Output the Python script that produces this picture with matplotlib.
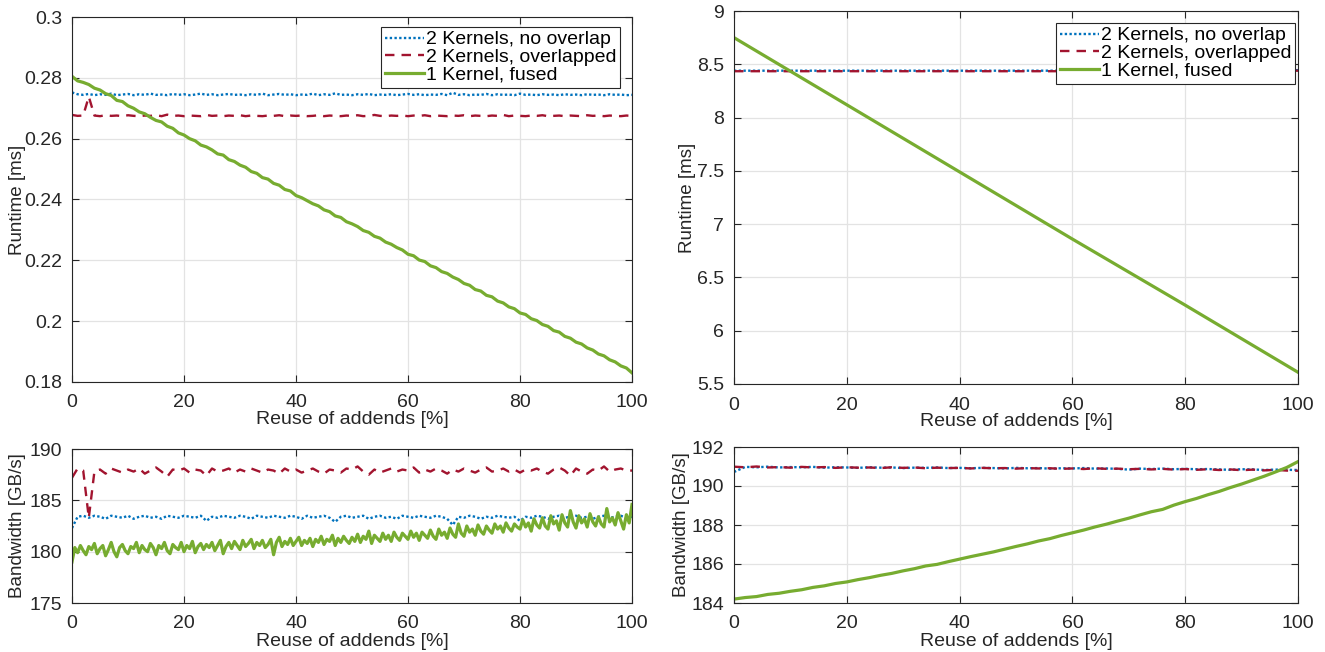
import numpy as np
import matplotlib
matplotlib.use("Agg")
import matplotlib.pyplot as plt

plt.rcParams['font.family'] = ['Liberation Sans', 'DejaVu Sans']

# ---------------- data ----------------
reuse_fine = list(range(0, 101))                    # 0..100 %, step 1
reuse_half = [i * 0.5 for i in range(0, 201)]       # 0..100 %, step 0.5
reuse_coarse = list(range(0, 101, 2))               # 0..100 %, step 2
reuse_deca = list(range(0, 101, 10))                # 0..100 %, step 10

labels = ["2 Kernels, no overlap", "2 Kernels, overlapped", "1 Kernel, fused"]

# Left panels (small problem)
rt_left_no_overlap = [
    0.2752, 0.2746, 0.2744, 0.2747, 0.2743, 0.2746, 0.2744, 0.2748, 0.2743, 0.2745,
    0.2747, 0.2743, 0.2746, 0.2744, 0.2748, 0.2744, 0.2745, 0.2743, 0.2747, 0.2744,
    0.2746, 0.2743, 0.2745, 0.2748, 0.2744, 0.2746, 0.2743, 0.2745, 0.2747, 0.2744,
    0.2745, 0.2743, 0.2746, 0.2744, 0.2748, 0.2743, 0.2745, 0.2747, 0.2744, 0.2746,
    0.2743, 0.2745, 0.2744, 0.2748, 0.2743, 0.2746, 0.2744, 0.2749, 0.2744, 0.2745,
    0.2743, 0.2746, 0.2744, 0.2747, 0.2743, 0.2745, 0.2744, 0.2746, 0.2743, 0.2745,
    0.2747, 0.2744, 0.2746, 0.2743, 0.2745, 0.2744, 0.2747, 0.2743, 0.2751, 0.2744,
    0.2746, 0.2743, 0.2745, 0.2744, 0.2747, 0.2743, 0.2746, 0.2744, 0.2745, 0.2743,
    0.2748, 0.2744, 0.2745, 0.2743, 0.2746, 0.2744, 0.2745, 0.2743, 0.2746, 0.2744,
    0.2745, 0.2743, 0.2746, 0.2744, 0.2745, 0.2743, 0.2746, 0.2744, 0.2745, 0.2743,
    0.2744,
]
rt_left_overlapped = [
    0.2678, 0.2675, 0.2676, 0.2738, 0.2676, 0.2674, 0.2677, 0.2675, 0.2676, 0.2674,
    0.2677, 0.2675, 0.2674, 0.2676, 0.2675, 0.2677, 0.2674, 0.2679, 0.2675, 0.2676,
    0.2674, 0.2676, 0.2675, 0.2674, 0.2678, 0.2675, 0.2676, 0.2674, 0.2676, 0.2675,
    0.2677, 0.2674, 0.2676, 0.2675, 0.2674, 0.2676, 0.2675, 0.2677, 0.2674, 0.2676,
    0.2675, 0.2676, 0.2674, 0.2675, 0.2677, 0.2674, 0.2676, 0.2675, 0.2674, 0.2676,
    0.2675, 0.2677, 0.2674, 0.2675, 0.2678, 0.2675, 0.2674, 0.2676, 0.2675, 0.2676,
    0.2674, 0.2676, 0.2675, 0.2677, 0.2674, 0.2676, 0.2675, 0.2674, 0.2676, 0.2675,
    0.2677, 0.2674, 0.2676, 0.2675, 0.2674, 0.2676, 0.2675, 0.2678, 0.2674, 0.2676,
    0.2675, 0.2674, 0.2676, 0.2675, 0.2677, 0.2674, 0.2675, 0.2676, 0.2674, 0.2676,
    0.2675, 0.2674, 0.2677, 0.2675, 0.2676, 0.2674, 0.2676, 0.2675, 0.2674, 0.2676,
    0.2675,
]
rt_left_fused = [
    0.2805, 0.2790, 0.2785, 0.2778, 0.2766, 0.2760, 0.2748, 0.2742, 0.2726, 0.2722,
    0.2708, 0.2700, 0.2688, 0.2682, 0.2670, 0.2660, 0.2655, 0.2641, 0.2634, 0.2619,
    0.2612, 0.2600, 0.2593, 0.2579, 0.2573, 0.2563, 0.2550, 0.2546, 0.2531, 0.2525,
    0.2513, 0.2506, 0.2492, 0.2486, 0.2472, 0.2467, 0.2453, 0.2447, 0.2433, 0.2428,
    0.2413, 0.2406, 0.2396, 0.2386, 0.2379, 0.2366, 0.2360, 0.2346, 0.2341, 0.2327,
    0.2320, 0.2311, 0.2298, 0.2292, 0.2279, 0.2273, 0.2260, 0.2253, 0.2242, 0.2234,
    0.2220, 0.2215, 0.2201, 0.2196, 0.2182, 0.2176, 0.2163, 0.2157, 0.2145, 0.2137,
    0.2124, 0.2118, 0.2104, 0.2099, 0.2085, 0.2080, 0.2066, 0.2060, 0.2047, 0.2041,
    0.2027, 0.2022, 0.2008, 0.2002, 0.1989, 0.1983, 0.1969, 0.1964, 0.1950, 0.1944,
    0.1931, 0.1925, 0.1912, 0.1905, 0.1892, 0.1886, 0.1873, 0.1866, 0.1853, 0.1846,
    0.1830,
]
bw_left_no_overlap = [
    182.3, 183.4, 183.5, 183.3, 183.5, 183.4, 183.2, 183.5, 183.4, 183.3,
    183.5, 183.2, 183.4, 183.5, 183.3, 183.4, 183.2, 183.5, 183.4, 183.3,
    183.5, 183.4, 183.3, 183.5, 183.0, 183.4, 183.3, 183.5, 183.4, 183.3,
    183.5, 183.4, 183.2, 183.5, 183.4, 183.3, 183.5, 183.4, 183.3, 183.5,
    183.4, 183.2, 183.5, 183.3, 183.4, 183.5, 183.3, 182.9, 183.4, 183.5,
    183.3, 183.4, 183.5, 183.2, 183.4, 183.5, 183.3, 183.4, 183.2, 183.5,
    183.4, 183.3, 183.5, 183.4, 183.3, 183.5, 183.4, 183.2, 182.6, 183.4,
    183.3, 183.5, 183.4, 183.2, 183.4, 183.3, 183.5, 183.4, 183.3, 183.4,
    183.0, 183.4, 183.3, 183.5, 183.4, 183.2, 183.4, 183.5, 183.3, 183.4,
    183.5, 183.3, 183.4, 183.2, 183.4, 183.5, 183.3, 183.4, 183.5, 183.3,
    183.4,
]
bw_left_overlapped = [
    187.2, 188.1, 187.9, 183.3, 187.8, 188.0, 187.6, 188.1, 187.9, 187.7,
    188.0, 187.8, 188.1, 187.6, 187.9, 188.2, 187.8, 187.3, 188.0, 187.9,
    188.1, 187.7, 188.0, 187.9, 187.4, 188.1, 187.8, 187.9, 188.1, 187.7,
    188.0, 187.8, 188.1, 187.9, 187.7, 188.0, 187.9, 187.6, 188.1, 187.8,
    188.0, 187.7, 187.9, 188.1, 187.8, 187.6, 188.0, 187.9, 187.7, 188.1,
    188.0, 188.3, 187.8, 187.5, 188.0, 187.7, 187.9, 188.1, 187.8, 188.0,
    187.9, 188.2, 187.7, 188.0, 187.8, 188.1, 187.9, 187.6, 188.0, 187.8,
    188.1, 187.9, 187.7, 188.0, 188.2, 187.8, 187.9, 188.1, 187.8, 188.0,
    187.7, 188.0, 187.9, 188.1, 187.8, 187.6, 188.0, 188.2, 187.9, 187.4,
    188.1, 187.8, 187.6, 188.0, 187.9, 188.3, 187.8, 188.0, 188.1, 187.9,
    187.9,
]
bw_left_fused = [
    179.0, 180.4, 179.9, 180.6, 180.1, 179.7, 180.5, 180.2, 180.8, 179.8,
    180.3, 180.6, 179.6, 180.2, 180.9, 180.0, 179.5, 180.4, 180.7, 180.1,
    179.8, 180.5, 180.3, 180.9, 179.9, 180.6, 180.2, 180.0, 180.8, 180.4,
    179.7, 180.6, 180.3, 180.9, 180.1, 179.8, 180.7, 180.4, 180.2, 180.9,
    180.0, 180.6, 180.3, 181.0, 179.9, 180.5, 180.8, 180.2, 180.7, 180.4,
    180.9, 180.1, 180.6, 181.1, 179.8, 180.5, 180.9, 180.3, 181.0, 180.6,
    180.2, 181.1, 180.5, 180.8, 181.2, 180.3, 180.9, 180.6, 181.1, 180.4,
    180.7, 181.2, 179.7, 180.9, 181.4, 180.5, 181.0, 180.7, 181.3, 180.6,
    181.0, 181.4, 180.6, 181.1, 180.8, 181.3, 180.5, 181.2, 180.9, 181.5,
    180.7, 181.2, 181.0, 181.6, 180.6, 181.3, 180.9, 181.5, 181.1, 180.8,
    181.4, 181.0, 181.7, 180.9, 181.5, 181.2, 182.0, 180.8, 181.6, 181.3,
    181.0, 181.8, 181.2, 181.6, 181.0, 181.9, 181.4, 181.1, 181.8, 181.5,
    181.2, 182.0, 181.4, 181.8, 181.1, 181.9, 181.6, 181.3, 182.1, 181.5,
    181.2, 182.2, 181.6, 181.9, 181.3, 182.3, 181.7, 181.4, 182.7, 181.8,
    181.5, 182.5, 181.9, 182.2, 181.6, 182.6, 182.0, 181.7, 182.5, 182.1,
    181.8, 182.7, 182.2, 182.5, 181.9, 182.8, 182.3, 182.0, 182.7, 182.4,
    182.2, 183.1, 182.4, 182.8, 182.0, 183.2, 182.6, 182.3, 183.3, 182.5,
    182.2, 183.5, 182.7, 183.0, 182.1, 183.6, 182.8, 182.4, 184.0, 182.9,
    182.3, 183.5, 182.8, 183.2, 182.4, 183.7, 182.9, 182.5, 183.4, 182.7,
    182.4, 184.2, 182.9, 183.3, 182.6, 183.8, 183.0, 182.2, 183.6, 182.8,
    184.6,
]

# Right panels (large problem)
rt_right_no_overlap = [
    8.44, 8.44, 8.44, 8.44, 8.44, 8.44, 8.44, 8.44, 8.44, 8.44, 8.44,
    8.44, 8.44, 8.44, 8.44, 8.44, 8.44, 8.44, 8.44, 8.44, 8.44,
    8.44, 8.44, 8.44, 8.44, 8.44, 8.44, 8.44, 8.44, 8.44, 8.44,
    8.44, 8.44, 8.44, 8.44, 8.44, 8.44, 8.44, 8.44, 8.44, 8.44,
    8.44, 8.44, 8.44, 8.44, 8.44, 8.44, 8.44, 8.445, 8.445, 8.445,
]
rt_right_overlapped = [
    8.435, 8.435, 8.435, 8.435, 8.435, 8.435, 8.435, 8.435, 8.435, 8.435, 8.435,
    8.435, 8.435, 8.435, 8.435, 8.435, 8.435, 8.435, 8.435, 8.435, 8.435,
    8.435, 8.435, 8.435, 8.435, 8.435, 8.435, 8.435, 8.435, 8.435, 8.435,
    8.435, 8.435, 8.435, 8.435, 8.435, 8.435, 8.435, 8.435, 8.44, 8.44,
    8.44, 8.44, 8.44, 8.44, 8.44, 8.44, 8.44, 8.44, 8.44, 8.44,
]
rt_right_fused = [8.75, 8.435, 8.12, 7.805, 7.49, 7.175, 6.86, 6.55, 6.24, 5.925, 5.61]
bw_right_no_overlap = [
    190.72, 190.98, 190.96, 190.99, 190.95, 190.97, 190.96, 190.98, 190.94, 190.96, 190.95,
    190.93, 190.96, 190.94, 190.95, 190.92, 190.94, 190.93, 190.95, 190.92, 190.93,
    190.91, 190.93, 190.92, 190.90, 190.93, 190.91, 190.92, 190.89, 190.91, 190.90,
    190.92, 190.89, 190.90, 190.88, 190.84, 190.89, 190.87, 190.89, 190.86, 190.88,
    190.86, 190.87, 190.85, 190.83, 190.86, 190.85, 190.82, 190.84, 190.83, 190.82,
]
bw_right_overlapped = [
    190.99, 190.96, 191.00, 190.95, 190.97, 190.94, 190.98, 190.95, 190.97, 190.93, 190.96,
    190.94, 190.95, 190.92, 190.96, 190.93, 190.95, 190.91, 190.94, 190.92, 190.93,
    190.90, 190.93, 190.91, 190.92, 190.89, 190.92, 190.90, 190.91, 190.88, 190.90,
    190.87, 190.91, 190.88, 190.89, 190.86, 190.88, 190.85, 190.88, 190.84, 190.87,
    190.83, 190.86, 190.82, 190.85, 190.81, 190.84, 190.80, 190.83, 190.79, 190.78,
]
bw_right_fused = [
    184.20, 184.28, 184.33, 184.44, 184.50, 184.60, 184.68, 184.80, 184.88, 185.00,
    185.08, 185.20, 185.30, 185.42, 185.52, 185.65, 185.76, 185.90, 185.98, 186.12,
    186.25, 186.38, 186.50, 186.62, 186.76, 186.90, 187.03, 187.18, 187.30, 187.46,
    187.60, 187.74, 187.90, 188.04, 188.20, 188.35, 188.52, 188.68, 188.80, 189.02,
    189.20, 189.36, 189.55, 189.72, 189.92, 190.10, 190.30, 190.50, 190.72, 190.95,
    191.25,
]

# ---------------- styling ----------------
C_BLUE = "#0072BD"
C_RED = "#A2142F"
C_GREEN = "#77AC30"
FS = 14
FS_Y = 13.5

fig = plt.figure(figsize=(13.25, 6.52), dpi=100)
W, H = 1325.0, 652.0

def axes_px(x0, y0, x1, y1):
    return fig.add_axes([x0 / W, 1 - y1 / H, (x1 - x0) / W, (y1 - y0) / H])

ax_lt = axes_px(72, 17, 632, 382)
ax_rt = axes_px(734, 11, 1298, 384)
ax_lb = axes_px(72, 449, 632, 603)
ax_rb = axes_px(734, 447, 1298, 603)

def style(ax, ylim, yticks, yticklabels, ylabel, ylabel_right_px):
    ax.set_xlim(0, 100)
    ax.set_ylim(*ylim)
    ax.set_xticks([0, 20, 40, 60, 80, 100])
    ax.set_yticks(yticks)
    ax.set_yticklabels(yticklabels)
    ax.grid(True, color="#e3e3e3", linewidth=0.9)
    ax.set_axisbelow(True)
    ax.tick_params(direction="in", top=True, right=True, length=5, width=0.8,
                   colors="#262626", labelsize=FS)
    ax.tick_params(axis="y", pad=7)
    ax.tick_params(axis="x", pad=9)
    for s in ax.spines.values():
        s.set_color("#262626")
        s.set_linewidth(0.8)
    ax.set_xlabel("Reuse of addends [%]", fontsize=FS, color="#262626", labelpad=0)
    ax.set_ylabel(ylabel, fontsize=FS_Y, color="#262626")
    ax_w_px = ax.get_position().width * W
    ax.yaxis.set_label_coords(-ylabel_right_px / ax_w_px, 0.5)

def draw(ax, xa, xb, a, b, c, lw_green=2.3):
    ax.plot(xa, a, linestyle=(0, (1, 1)), color=C_BLUE, linewidth=1.7, label=labels[0])
    ax.plot(xa, b, linestyle=(0, (4, 3)), color=C_RED, linewidth=1.7, label=labels[1])
    ax.plot(xb, c, linestyle="-", color=C_GREEN, linewidth=lw_green, label=labels[2])

draw(ax_lt, reuse_fine, reuse_fine, rt_left_no_overlap, rt_left_overlapped, rt_left_fused)
draw(ax_lb, reuse_fine, reuse_half, bw_left_no_overlap, bw_left_overlapped, bw_left_fused)
draw(ax_rt, reuse_coarse, reuse_deca, rt_right_no_overlap, rt_right_overlapped, rt_right_fused)
draw(ax_rb, reuse_coarse, reuse_coarse, bw_right_no_overlap, bw_right_overlapped, bw_right_fused)

style(ax_lt, (0.18, 0.30), [0.18, 0.2, 0.22, 0.24, 0.26, 0.28, 0.3],
      ["0.18", "0.2", "0.22", "0.24", "0.26", "0.28", "0.3"], "Runtime [ms]", 46)
style(ax_rt, (5.5, 9), [5.5, 6, 6.5, 7, 7.5, 8, 8.5, 9],
      ["5.5", "6", "6.5", "7", "7.5", "8", "8.5", "9"], "Runtime [ms]", 38)
style(ax_lb, (175, 190), [175, 180, 185, 190],
      ["175", "180", "185", "190"], "Bandwidth [GB/s]", 46)
style(ax_rb, (184, 192), [184, 186, 188, 190, 192],
      ["184", "186", "188", "190", "192"], "Bandwidth [GB/s]", 44)

for ax, anchor in ((ax_lt, (1 - 12 / 560, 1 - 10 / 365)), (ax_rt, (1 - 3 / 564, 1 - 12 / 373))):
    leg = ax.legend(loc="upper right", bbox_to_anchor=anchor, fontsize=FS,
                    frameon=True, fancybox=False, framealpha=1.0,
                    edgecolor="#262626", borderpad=0.2, labelspacing=0.0,
                    handlelength=2.0, handletextpad=0.1, borderaxespad=0.0)
    leg.get_frame().set_linewidth(0.8)

fig.savefig("out.png", dpi=100)
